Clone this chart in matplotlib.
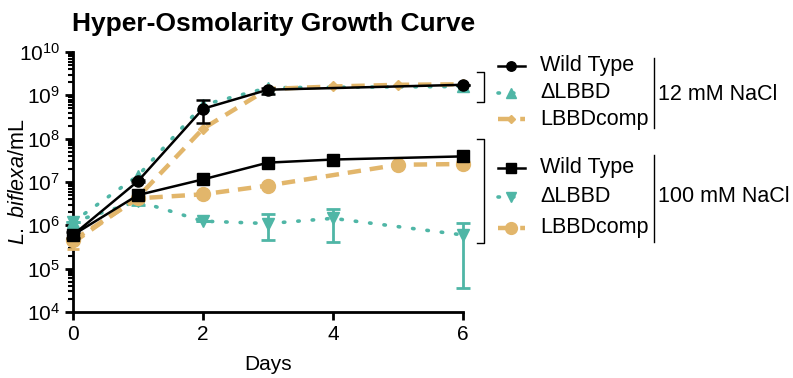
import numpy as np
import matplotlib
matplotlib.use('Agg')
import matplotlib.pyplot as plt
from matplotlib.lines import Line2D
from matplotlib.ticker import LogLocator, NullFormatter

plt.rcParams['font.family'] = ['Liberation Sans', 'DejaVu Sans']
plt.rcParams['mathtext.fontset'] = 'custom'
plt.rcParams['mathtext.rm'] = 'Liberation Sans'
plt.rcParams['mathtext.it'] = 'Liberation Sans:italic'

# 12 mM NaCl
wt12_days = [0, 1, 2, 3, 6]
wt12 = [6.0e5, 1.05e7, 4.9e8, 1.35e9, 1.75e9]
wt12_lo = [5.0e5, 1.0e7, 2.3e8, 1.1e9, 1.75e9]
wt12_hi = [7.0e5, 1.1e7, 7.6e8, 1.5e9, 1.75e9]

dl12_days = [0, 1, 2, 3, 6]
dl12 = [1.2e6, 1.4e7, 6.0e8, 1.5e9, 1.6e9]

comp12_days = [0, 1, 2, 3, 4, 5, 6]
comp12 = [4.0e5, 4.5e6, 1.7e8, 1.4e9, 1.6e9, 1.75e9, 1.8e9]

# 100 mM NaCl
wt100_days = [0, 1, 2, 3, 4, 6]
wt100 = [6.0e5, 5.0e6, 1.15e7, 2.8e7, 3.3e7, 3.9e7]

dl100_days = [0, 1, 2, 3, 4, 6]
dl100 = [1.2e6, 3.6e6, 1.25e6, 1.1e6, 1.45e6, 6.0e5]
dl100_lo = [1.2e6, 3.0e6, 1.25e6, 4.5e5, 4.2e5, 3.5e4]
dl100_hi = [1.2e6, 4.2e6, 1.25e6, 1.8e6, 2.4e6, 1.15e6]

comp100_days = [0, 1, 2, 3, 5, 6]
comp100 = [4.5e5, 4.2e6, 5.2e6, 8.3e6, 2.5e7, 2.6e7]
comp100_lo = [2.8e5, 4.2e6, 5.2e6, 8.3e6, 2.5e7, 2.6e7]
comp100_hi = [6.0e5, 4.2e6, 5.2e6, 8.3e6, 2.5e7, 2.6e7]

labels = ['Wild Type', '\u0394LBBD', 'LBBDcomp']

teal = '#4fb6a6'
gold = '#e2b66b'

st_wt12 = dict(color='black', lw=1.8, ls='-', marker='o', ms=8)
st_dl12 = dict(color=teal, lw=2.6, ls=(0, (0.4, 3.6)), marker='^', ms=8, dash_capstyle='round')
st_comp12 = dict(color=gold, lw=3.2, ls=(0, (3, 2)), marker='D', ms=5)
st_wt100 = dict(color='black', lw=1.8, ls='-', marker='s', ms=8)
st_dl100 = dict(color=teal, lw=2.6, ls=(0, (0.4, 3.6)), marker='v', ms=8, dash_capstyle='round')
st_comp100 = dict(color=gold, lw=3.2, ls=(0, (3, 2)), marker='o', ms=10)

fig = plt.figure(figsize=(7.93, 3.78), dpi=100)
ax = fig.add_axes([73 / 793, 1 - 312 / 378, 390 / 793, 260 / 378])


def err(y, lo, hi):
    y = np.array(y)
    return [y - np.array(lo), np.array(hi) - y]


ax.errorbar(dl100_days, dl100, yerr=err(dl100, dl100_lo, dl100_hi), capsize=5, elinewidth=2,
            capthick=2, clip_on=False, zorder=3, **st_dl100)
ax.plot(dl12_days, dl12, clip_on=False, zorder=3, **st_dl12)
ax.errorbar(comp100_days, comp100, yerr=err(comp100, comp100_lo, comp100_hi), capsize=4,
            elinewidth=2, capthick=2, clip_on=False, zorder=4, **st_comp100)
ax.plot(comp12_days, comp12, clip_on=False, zorder=4, **st_comp12)
ax.plot(wt100_days, wt100, clip_on=False, zorder=5, **st_wt100)
ax.errorbar(wt12_days, wt12, yerr=err(wt12, wt12_lo, wt12_hi), capsize=5, elinewidth=1.8,
            capthick=1.8, clip_on=False, zorder=5, **st_wt12)

ax.set_yscale('log')
ax.set_ylim(1e4, 1e10)
ax.set_xlim(0, 6)
ax.set_xticks([0, 2, 4, 6])
ax.yaxis.set_major_locator(LogLocator(base=10, numticks=10))
ax.yaxis.set_minor_locator(LogLocator(base=10, subs=np.arange(2, 10), numticks=100))
ax.yaxis.set_minor_formatter(NullFormatter())
for s in ['top', 'right']:
    ax.spines[s].set_visible(False)
for s in ['left', 'bottom']:
    ax.spines[s].set_linewidth(2)
ax.tick_params(which='major', width=2, length=6, labelsize=15, direction='out')
ax.tick_params(which='minor', width=1.5, length=3.5, direction='out')
ax.set_xlabel('Days', fontsize=15, labelpad=8)
ax.set_ylabel(r'$\mathit{L.\ biflexa}$/mL', fontsize=15.5)
ax.yaxis.set_label_coords(-0.112, 0.5)

fig.text(72 / 793, 1 - 24 / 378, 'Hyper-Osmolarity Growth Curve', fontsize=19,
         fontweight='bold', ha='left', va='center')

# legend, drawn by hand in pixel positions
W, H = 793, 378


def fx(px):
    return px / W


def fy(py):
    return 1 - py / H


rows = [(66, st_wt12), (93, st_dl12), (119, st_comp12),
        (168, st_wt100), (197, st_dl100), (228, st_comp100)]
for i, (py, st) in enumerate(rows):
    s = dict(st)
    s['ms'] = s['ms'] * 0.85
    fig.add_artist(Line2D([fx(498), fx(511), fx(525)], [fy(py)] * 3, transform=fig.transFigure,
                          markevery=[1], **s))
    fig.text(fx(540), fy(py), labels[i % 3], fontsize=15.5, ha='left', va='center')

for top, bot in [(72, 102), (139, 243)]:
    fig.add_artist(Line2D([fx(477), fx(484), fx(484), fx(477)],
                          [fy(top), fy(top), fy(bot), fy(bot)],
                          transform=fig.transFigure, color='black', lw=1))

for top, bot, ty, txt in [(58, 128, 95, '12 mM NaCl'), (155, 242, 197, '100 mM NaCl')]:
    fig.add_artist(Line2D([fx(654), fx(654)], [fy(top), fy(bot)],
                          transform=fig.transFigure, color='black', lw=1))
    fig.text(fx(658), fy(ty), txt, fontsize=15.5, ha='left', va='center')

fig.savefig('out.png', dpi=100)
